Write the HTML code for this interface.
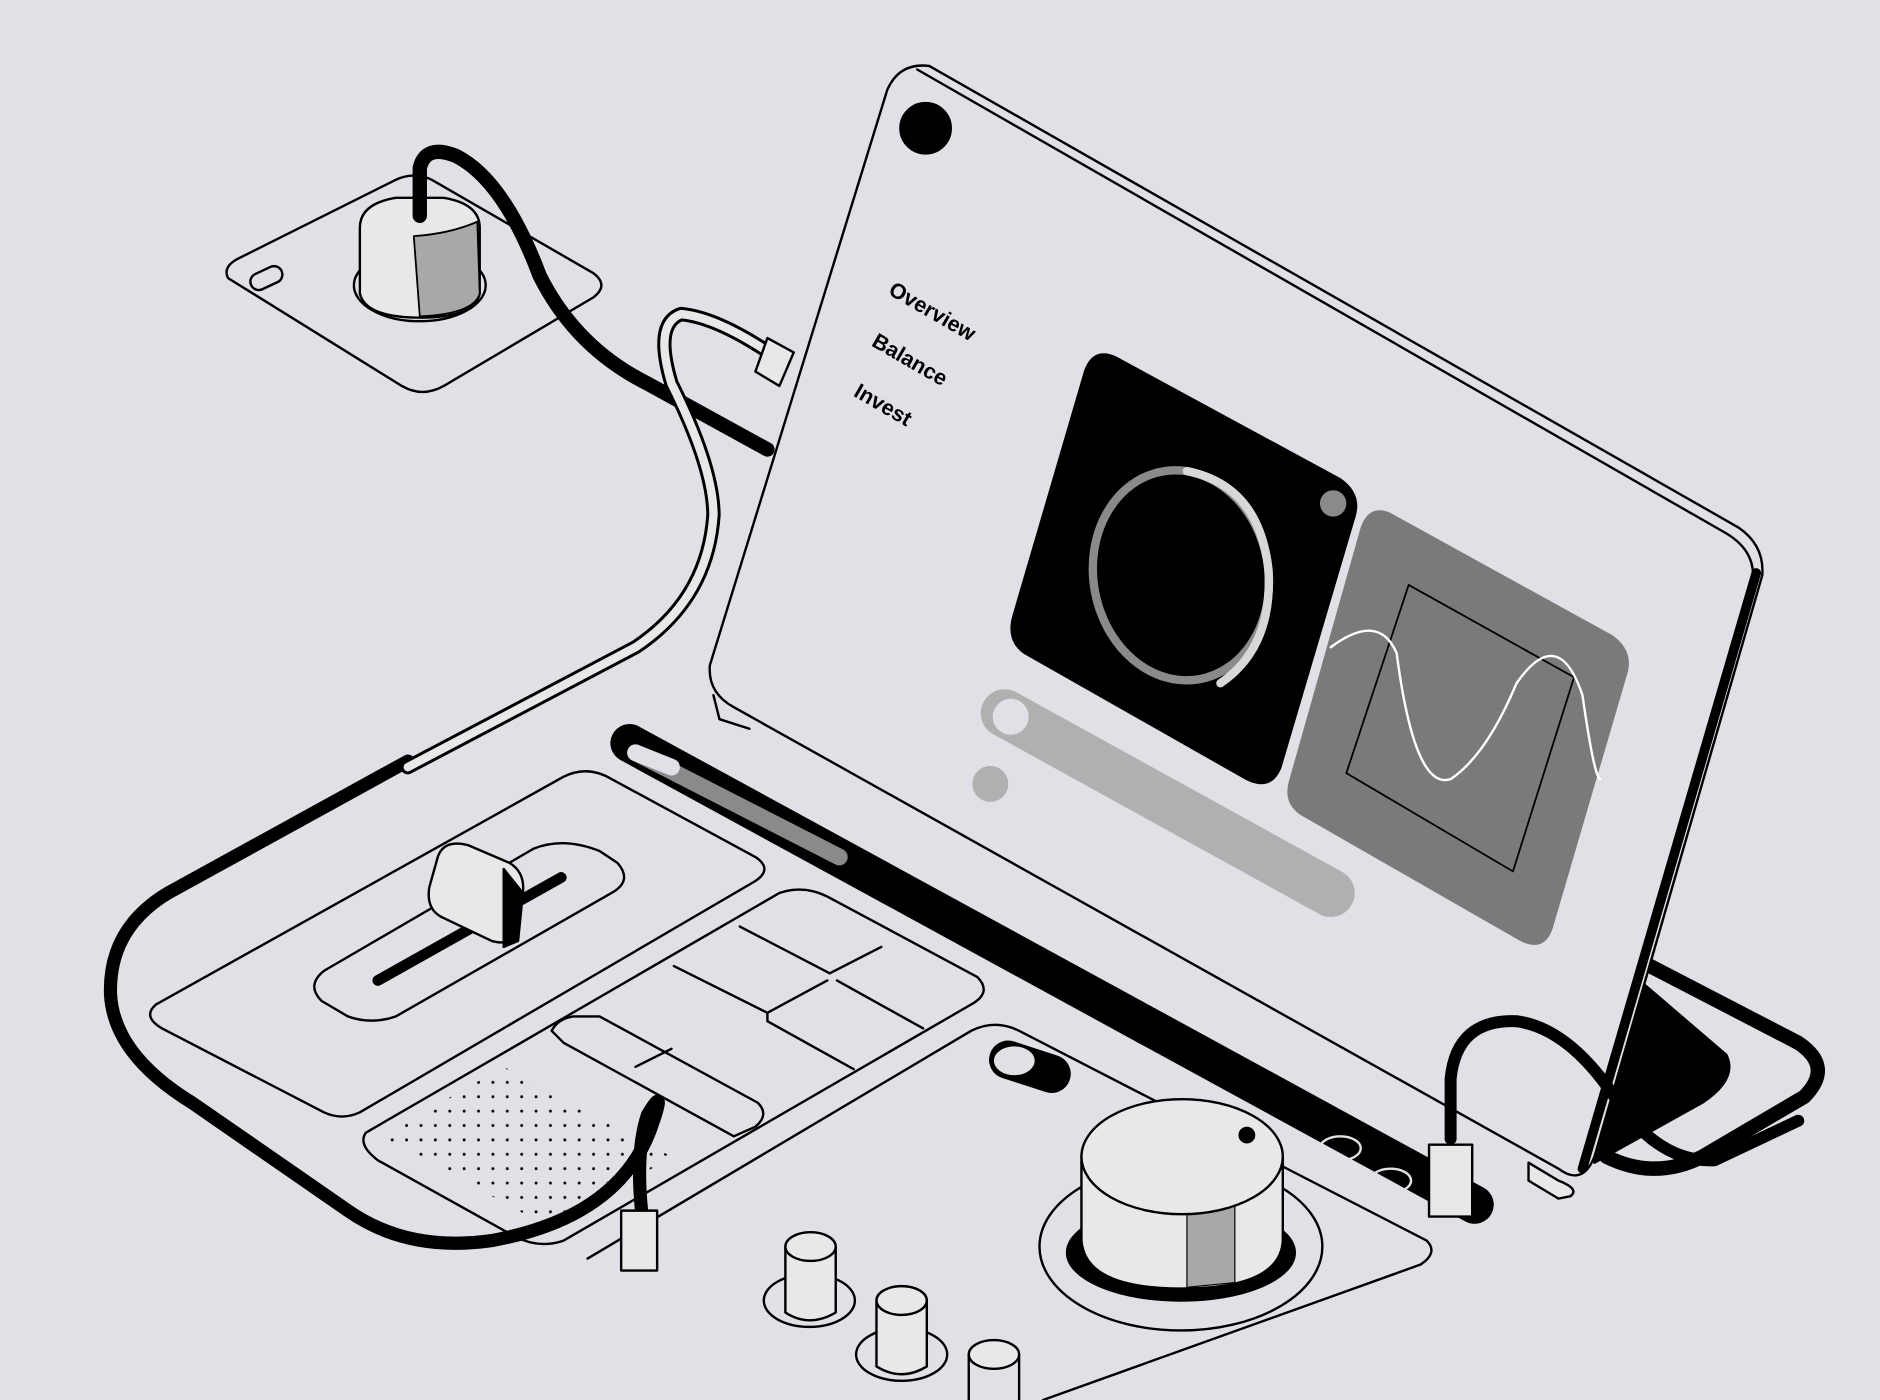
<!DOCTYPE html>
<html><head><meta charset="utf-8"><style>
html,body{margin:0;padding:0;background:#e0e0e6;width:1880px;height:1400px;overflow:hidden}
svg{display:block}
text{font-family:"Liberation Sans",sans-serif;font-weight:bold;font-size:18px;fill:#000}
</style></head><body>
<svg width="1880" height="1400" viewBox="0 0 1568 1168" xmlns="http://www.w3.org/2000/svg">
<rect width="1568" height="1168" fill="#e0e0e6"/>
<defs>
<pattern id="dots" width="12" height="12" patternUnits="userSpaceOnUse"><circle cx="3" cy="3" r="1.2" fill="#000"/></pattern>
</defs>
<g fill="none" stroke="#000" stroke-width="2" stroke-linejoin="round" stroke-linecap="round">
<!-- charger pad -->
<path d="M190 232 Q185 222 200 215 L330 150 Q345 143 360 150 L495 228 Q508 238 495 248 L370 322 Q352 332 335 322 Z" fill="#e0e0e6"/>
<rect x="208" y="225" width="28" height="14" rx="7" transform="rotate(-25 222 232)"/>
<ellipse cx="350" cy="238" rx="55" ry="30"/>
<path d="M300 190 Q300 170 330 165 L370 165 Q400 170 400 190 L400 245 Q395 265 350 265 Q305 265 300 245 Z" fill="#e8e8ea"/>
<path d="M345 197 Q375 195 398 185 L400 245 Q395 262 350 264 Z" fill="#a8a8a8" stroke-width="1.5"/>
<!-- black cable from charger -->
<path d="M350 180 L350 140 Q355 120 380 130 Q420 150 450 230 Q480 290 540 320 L640 375" stroke-width="12"/>
<!-- base outline -->
<path d="M490 1050 L810 860 Q830 850 850 860 L1190 1035 Q1200 1045 1185 1055 L870 1168" fill="#e0e0e6"/>
<!-- panels -->
<path d="M130 838 L470 648 Q490 638 510 650 L630 715 Q645 725 630 735 L300 928 Q285 935 270 928 L135 858 Q118 848 130 838 Z"/>
<path d="M270 810 L445 708 Q470 698 500 710 L515 720 Q528 735 510 745 L330 848 Q310 855 290 848 L268 835 Q255 822 270 810 Z"/>
<path d="M315 818 L468 732" stroke-width="9"/>
<path d="M305 945 L650 745 Q670 738 690 748 L815 815 Q828 828 810 838 L470 1035 Q450 1042 430 1032 L315 968 Q298 955 305 945 Z"/>
<path d="M318 948 L420 890 L560 965 L460 1025 Z" fill="url(#dots)" stroke="none"/>
<path d="M460 860 Q465 850 478 848 L500 848 L632 920 Q642 930 630 940 L612 948 L470 870 Z"/>
<path d="M530 890 L560 875"/>
<!-- keypad grid -->
<path d="M617 773 L692 812 M692 812 L735 790 M562 806 L640 845 M640 845 L690 818 M698 818 L770 858 M640 852 L712 892 M640 852 L640 845"/>
<!-- slider knob -->
<path d="M365 715 Q370 700 390 705 L425 720 Q438 728 436 745 L432 775 Q428 790 410 785 L368 765 Q355 758 358 740 Z" fill="#e8e8ea"/>
<path d="M420 725 L436 745 L432 785 L420 790 Z" fill="#000"/>
<!-- track -->
<path d="M525 620 L1230 1005" stroke-width="32"/>
<path d="M530 628 L700 715" stroke="#8a8a8a" stroke-width="14"/>
<path d="M530 628 L560 640" stroke="#e0e0e6" stroke-width="14"/>
<ellipse cx="1118" cy="958" rx="17" ry="10" stroke="#e0e0e6"/><ellipse cx="1160" cy="985" rx="17" ry="10" stroke="#e0e0e6"/>
<!-- toggle -->
<rect x="825" y="875" width="68" height="30" rx="15" fill="#000" transform="rotate(18 859 890)"/>
<ellipse cx="846" cy="885" rx="18" ry="13" fill="#e0e0e6"/>
<!-- big knob -->
<ellipse cx="985" cy="1040" rx="118" ry="70" fill="#e0e0e6"/>
<ellipse cx="985" cy="1045" rx="95" ry="40" fill="#000"/>
<path d="M902 965 L902 1035 Q905 1075 985 1075 Q1068 1075 1070 1035 L1070 965" fill="#e8e8ea"/>
<path d="M990 1074 L990 1005 L1030 1000 L1030 1070 Z" fill="#a8a8a8" stroke-width="1"/>
<ellipse cx="986" cy="965" rx="84" ry="48" fill="#e8e8ea"/>
<circle cx="1040" cy="947" r="6" fill="#000"/>
<!-- small knobs -->
<ellipse cx="675" cy="1085" rx="38" ry="22"/>
<path d="M655 1040 L655 1095 Q675 1108 697 1095 L697 1040" fill="#e8e8ea"/><ellipse cx="676" cy="1040" rx="21" ry="12" fill="#e8e8ea"/>
<ellipse cx="752" cy="1130" rx="38" ry="22"/>
<path d="M731 1085 L731 1140 Q752 1153 773 1140 L773 1085" fill="#e8e8ea"/><ellipse cx="752" cy="1085" rx="21" ry="12" fill="#e8e8ea"/>
<path d="M808 1130 L808 1168 M850 1168 L850 1130" /><ellipse cx="829" cy="1130" rx="21" ry="12" fill="#e8e8ea"/>
<!-- left loop cable -->
<path d="M340 635 L140 745 Q90 775 92 830 Q95 880 160 920 L290 1010 Q340 1045 410 1035 Q520 1015 545 935 Q555 905 540 930 Q530 960 535 1010" stroke-width="11"/>
<rect x="518" y="1010" width="30" height="50" fill="#e8e8ea"/>
<!-- light cable -->
<path d="M650 300 Q600 265 568 262 Q545 270 560 320 Q595 390 595 430 Q590 500 530 540 L340 640" stroke-width="12"/>
<path d="M650 300 Q600 265 568 262 Q545 270 560 320 Q595 390 595 430 Q590 500 530 540 L340 640" stroke="#e8e8ea" stroke-width="7"/>
<path d="M640 282 L662 294 L650 322 L630 310 Z" fill="#e8e8ea"/>
<!-- stand -->
<path d="M1365 800 L1500 870 Q1530 890 1505 915 L1420 965 Q1380 985 1340 965" stroke-width="12"/>
<path d="M1370 820 L1440 880 Q1450 900 1420 920 L1330 970 Z" fill="#000"/>
<path d="M1275 970 L1300 985 Q1318 992 1310 998 L1300 1000 L1275 985 Z" fill="#e8e8ea"/>
<!-- tablet -->
<path d="M775 55 L1450 440 Q1472 455 1470 480 L1330 965 Q1320 990 1300 975 L612 590 Q590 578 592 555 L740 75 Q750 52 775 55 Z" fill="#e0e0e6"/>
<path d="M765 58 L1440 445 Q1465 460 1462 485 L1318 975" stroke-width="2"/>
<path d="M1465 478 L1320 975" stroke-width="8"/>
<path d="M595 580 L600 600 L625 608" />
<circle cx="772" cy="107" r="21" fill="#000"/>
<!-- right cable -->
<path d="M1210 950 L1210 900 Q1215 850 1265 852 Q1310 858 1350 920 Q1385 970 1430 968 L1500 935" stroke-width="10"/>
<rect x="1192" y="955" width="36" height="60" fill="#e8e8ea"/>
<!-- black panel -->
<path d="M930 298 L1118 400 Q1135 412 1130 430 L1068 640 Q1060 660 1040 650 L855 545 Q840 535 845 515 L905 310 Q912 290 930 298 Z" fill="#000"/>
<ellipse cx="985" cy="480" rx="73" ry="88" transform="rotate(-10 985 480)" stroke="#8a8a8a" stroke-width="7"/>
<path d="M990 393 Q1050 405 1058 475 Q1062 540 1018 570" stroke="#d8d8d8" stroke-width="7"/>
<circle cx="1112" cy="420" r="11" fill="#8a8a8a" stroke="none"/>
<!-- gray panel -->
<path d="M1160 428 L1345 530 Q1362 542 1358 560 L1295 775 Q1288 795 1268 785 L1085 680 Q1070 670 1075 652 L1135 440 Q1142 420 1160 428 Z" fill="#7a7a7a" stroke="none"/>
<path d="M1175 488 L1313 565 L1262 727 L1123 645 Z" stroke-width="1.5"/>
<path d="M1110 540 Q1150 510 1165 545 Q1180 660 1210 650 Q1240 630 1265 570 Q1300 520 1320 580 Q1330 650 1335 650" stroke="#fff" stroke-width="2"/>
<!-- gray bar -->
<path d="M838 595 L1110 745" stroke="#b0b0b0" stroke-width="40"/>
<circle cx="843" cy="598" r="15" fill="#e0e0e6" stroke="none"/>
<circle cx="826" cy="654" r="15" fill="#b0b0b0" stroke="none"/>
</g>
<text transform="translate(740 245) rotate(30)">Overview</text>
<text transform="translate(726 288) rotate(30)">Balance</text>
<text transform="translate(711 330) rotate(30)">Invest</text>
</svg>
</body></html>
